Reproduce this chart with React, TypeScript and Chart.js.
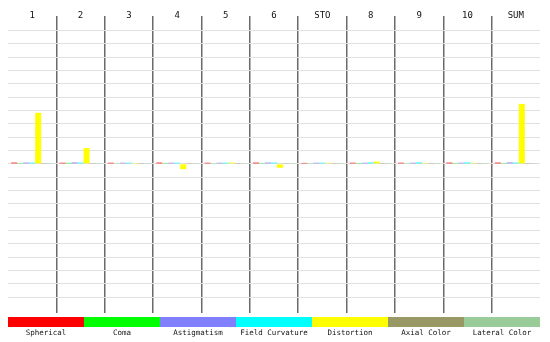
import React, { useEffect, useRef } from "react";
import { Chart, registerables } from "chart.js";

Chart.register(...registerables);

const categories = ["1", "2", "3", "4", "5", "6", "STO", "8", "9", "10", "SUM"];
const seriesNames = ["Spherical", "Coma", "Astigmatism", "Field Curvature", "Distortion", "Axial Color", "Lateral Color"];
const seriesColors = ["#ff0000", "#00ff00", "#8080ff", "#00ffff", "#ffff00", "#999966", "#99cc99"];

const spherical = [0.09, 0.08, 0.08, 0.09, 0.08, 0.09, 0.07, 0.08, 0.08, 0.09, 0.09];
const coma = [0.06, 0.07, 0.05, 0.06, 0.05, 0.06, 0.05, 0.06, 0.05, 0.06, 0.06];
const astigmatism = [0.09, 0.1, 0.08, 0.08, 0.08, 0.09, 0.08, 0.08, 0.08, 0.08, 0.1];
const fieldCurvature = [0.09, 0.09, 0.08, 0.08, 0.08, 0.09, 0.08, 0.1, 0.1, 0.1, 0.09];
const distortion = [3.83, 1.18, 0.06, -0.4, 0.1, -0.3, 0.07, 0.17, 0.07, 0.07, 4.5];
const axialColor = [0.06, 0.06, 0.06, 0.06, 0.06, 0.06, 0.06, 0.06, 0.06, 0.06, 0.06];
const lateralColor = [0.06, 0.06, 0.06, 0.06, 0.06, 0.06, 0.06, 0.06, 0.06, 0.06, 0.06];

const seriesValues = [spherical, coma, astigmatism, fieldCurvature, distortion, axialColor, lateralColor];

const MONO = '"DejaVu Sans Mono", "Liberation Mono", monospace';

const topLabelsPlugin = {
  id: "topLabels",
  afterDraw(chart: any) {
    const ctx = chart.ctx;
    const xs = chart.scales.x;
    ctx.save();
    ctx.font = `9px ${MONO}`;
    ctx.fillStyle = "#111";
    ctx.textAlign = "center";
    ctx.textBaseline = "middle";
    categories.forEach((c, i) => {
      ctx.fillText(c, xs.getPixelForValue(i), 16);
    });
    ctx.restore();
  },
};

const bottomLegendPlugin = {
  id: "bottomLegend",
  afterDraw(chart: any) {
    const ctx = chart.ctx;
    const area = chart.chartArea;
    const n = chart.data.datasets.length;
    const w = (area.right - area.left) / n;
    ctx.save();
    ctx.font = `7.5px ${MONO}`;
    ctx.textAlign = "center";
    ctx.textBaseline = "middle";
    chart.data.datasets.forEach((ds: any, i: number) => {
      const x0 = area.left + i * w;
      ctx.fillStyle = ds.backgroundColor;
      ctx.fillRect(x0, area.bottom + 4, w, 10);
      ctx.fillStyle = "#111";
      ctx.fillText(ds.label, x0 + w / 2, area.bottom + 20);
    });
    ctx.restore();
  },
};

export default function App() {
  const ref = useRef<HTMLCanvasElement | null>(null);
  useEffect(() => {
    if (!ref.current) return;
    const chart = new Chart(ref.current, {
      type: "bar",
      data: {
        labels: categories,
        datasets: seriesNames.map((name, i) => ({
          label: name,
          data: seriesValues[i],
          backgroundColor: seriesColors[i],
          borderWidth: 0,
          categoryPercentage: 0.87,
          barPercentage: 1,
        })),
      },
      options: {
        animation: false,
        responsive: false,
        maintainAspectRatio: false,
        layout: { padding: { left: 8, right: 10, top: 16, bottom: 29 } },
        plugins: { legend: { display: false }, tooltip: { enabled: false } },
        scales: {
          x: {
            offset: true,
            ticks: { display: false },
            border: { display: false },
            grid: {
              offset: true,
              drawTicks: false,
              lineWidth: 1.5,
              color: (c: any) => (c.type === "tick" && c.index > 0 ? "#6a6a6a" : "rgba(0,0,0,0)"),
            },
          },
          y: {
            min: -11.2,
            max: 11.1,
            ticks: { display: false, stepSize: 1 },
            border: { display: false },
            grid: {
              drawTicks: false,
              lineWidth: 1,
              color: (c: any) => {
                const v = c.tick ? c.tick.value : 99;
                return Math.abs(v) <= 10.001 && Math.abs(v - Math.round(v)) < 1e-6 ? "#e0e0e0" : "rgba(0,0,0,0)";
              },
            },
          },
        },
      },
      plugins: [topLabelsPlugin, bottomLegendPlugin],
    });
    return () => chart.destroy();
  }, []);
  return (
    <div style={{ position: "absolute", left: 0, top: 0, width: 550, height: 342, background: "#fff" }}>
      <canvas ref={ref} width={550} height={342} style={{ width: 550, height: 342, display: "block" }} />
    </div>
  );
}
